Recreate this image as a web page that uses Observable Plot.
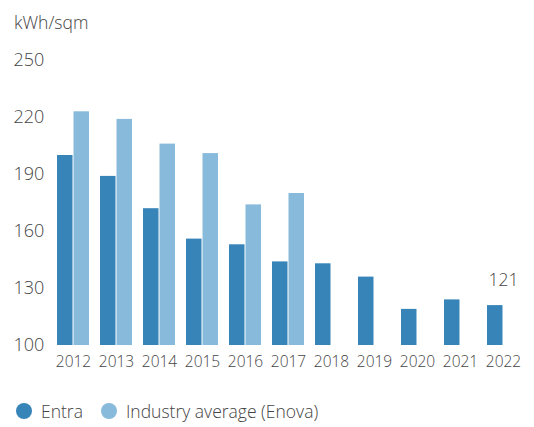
<!DOCTYPE html>
<html>
<head>
<meta charset="utf-8">
<script src="https://cdn.jsdelivr.net/npm/d3@7"></script>
<script src="https://cdn.jsdelivr.net/npm/@observablehq/plot@0.6"></script>
<style>
  html, body { margin: 0; padding: 0; background: #fff; }
  body { width: 534px; height: 427px; position: relative; overflow: hidden; font-family: "Open Sans", sans-serif; color: #444; }
  #unit { position: absolute; left: 14px; top: 14px; font-size: 17.5px; line-height: 17px; font-weight: 300; }
  #chart { position: absolute; left: 0; top: 0; }
  #legend { position: absolute; left: 16px; top: 401px; height: 20px; display: flex; align-items: center; font-size: 17.5px; font-weight: 300; }
  .item { display: flex; align-items: center; margin-right: 18px; }
  .sw { width: 16px; height: 16px; border-radius: 50%; margin-right: 9px; }
</style>
</head>
<body>
<div id="chart"></div>
<div id="unit">kWh/sqm</div>
<div id="legend"></div>
<script>
const years = ["2012","2013","2014","2015","2016","2017","2018","2019","2020","2021","2022"];
const entraValues = [200, 189, 172, 156, 153, 144, 143, 136, 119, 124, 121];
const industryYears = ["2012","2013","2014","2015","2016","2017"];
const industryValues = [223, 219, 206, 201, 174, 180];
const yTicks = [100, 130, 160, 190, 220, 250];
const yBase = 100;
const seriesNames = ["Entra", "Industry average (Enova)"];
const seriesColors = ["#3784b8", "#88badb"];
const annotYear = "2022";
const annotValue = 121;

const entra = years.map((year, i) => ({year, value: entraValues[i]}));
const industry = industryYears.map((year, i) => ({year, value: industryValues[i]}));

const plot = Plot.plot({
  width: 534,
  height: 380,
  marginLeft: 51,
  marginRight: 9,
  marginTop: 60,
  marginBottom: 35,
  style: {fontFamily: "Open Sans, sans-serif", fontSize: "15px", fontWeight: 300, color: "#444", background: "transparent"},
  x: {type: "band", domain: years, paddingInner: 0.256, paddingOuter: 0.14, round: false},
  y: {domain: [100, 250]},
  marks: [
    Plot.barY(entra, {x: "year", y1: yBase, y2: "value", fill: seriesColors[0], insetRight: 16.5}),
    Plot.barY(industry, {x: "year", y1: yBase, y2: "value", fill: seriesColors[1], insetLeft: 16.5}),
    Plot.text([{year: annotYear, value: annotValue}], {x: "year", y: "value", text: d => String(d.value), dy: -25, fontSize: 17.5, fill: "#444"}),
    Plot.axisY({ticks: yTicks, tickSize: 0, tickPadding: 38, textAnchor: "start", fontSize: 18, label: null}),
    Plot.axisX({tickSize: 0, tickPadding: 10, fontSize: 15.5, label: null})
  ]
});
document.getElementById("chart").appendChild(plot);

const legend = document.getElementById("legend");
seriesNames.forEach((name, i) => {
  const item = document.createElement("div");
  item.className = "item";
  const sw = document.createElement("span");
  sw.className = "sw";
  sw.style.background = seriesColors[i];
  const t = document.createElement("span");
  t.textContent = name;
  item.appendChild(sw);
  item.appendChild(t);
  legend.appendChild(item);
});
</script>
</body>
</html>
